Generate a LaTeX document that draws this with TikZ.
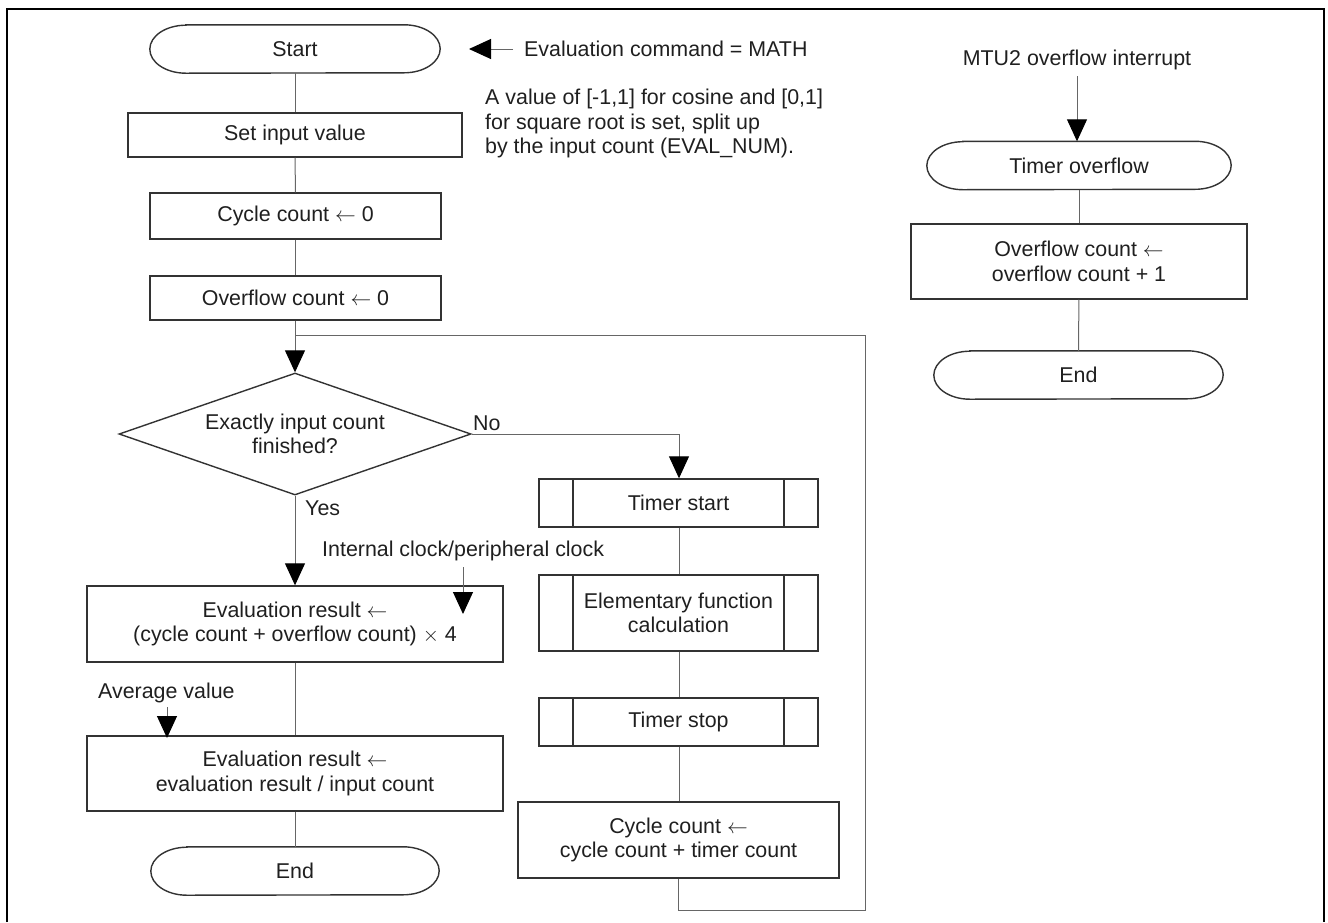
\documentclass[tikz,border=0pt]{standalone}
\usepackage{fontspec}
\setmainfont{Liberation Sans}
\usetikzlibrary{arrows.meta,shapes.geometric}

% outline of a terminator with elliptical ends
\newcommand\termoutline[1]{%
  \draw[outline] ([xshift=36pt]#1.north west) -- ([xshift=-36pt]#1.north east)
    arc[start angle=90,end angle=-90,x radius=36pt,y radius=24pt]
    -- ([xshift=36pt]#1.south west)
    arc[start angle=270,end angle=90,x radius=36pt,y radius=24pt] -- cycle;}

\begin{document}
\begin{tikzpicture}[x=1pt,y=1pt,
  every node/.style={font=\fontsize{21.4}{24.5}\selectfont, text=black!88},
  outline/.style={draw=black!80, line width=1.4pt},
  box/.style={outline, align=center, inner sep=0pt},
  term/.style={align=center, inner sep=0pt, minimum height=48pt},
  subproc/.style={box, path picture={
      \draw[outline] ([xshift=34pt]path picture bounding box.north west) -- ([xshift=34pt]path picture bounding box.south west)
                     ([xshift=-34pt]path picture bounding box.north east) -- ([xshift=-34pt]path picture bounding box.south east);}},
  decision/.style={outline, shape=diamond, aspect=2.9, inner sep=0pt, align=center},
  link/.style={draw=black!60, line width=1pt},
  flow/.style={link, -{Triangle[length=22pt,width=20pt,color=black]}},
  note/.style={inner sep=0pt, align=left},
]
\useasboundingbox (0,0) rectangle (1328,-922);

% frame, open at the bottom
\draw[line width=2.5pt, black] (7,-922) -- (7,-9) -- (1324,-9) -- (1324,-922);

% ---------- main flow ----------
\node[term, minimum width=290pt] (start) at (295,-49) {Start};
\node[box, minimum width=334pt, minimum height=44pt] (setin) at (295,-135) {Set input value};
\node[box, minimum width=291pt, minimum height=46pt] (cyc0) at (295.5,-216) {Cycle count $\leftarrow$ 0};
\node[box, minimum width=291pt, minimum height=44pt] (ovf0) at (295.5,-298) {Overflow count $\leftarrow$ 0};
\node[decision, minimum width=352pt, minimum height=122pt] (dec) at (295,-434) {Exactly input count\\finished?};
\node[box, minimum width=416pt, minimum height=76pt] (eval1) at (295,-624)
  {Evaluation result $\leftarrow$\\(cycle count + overflow count) $\times$ 4};
\node[box, minimum width=416pt, minimum height=75pt] (eval2) at (295,-773.5)
  {Evaluation result $\leftarrow$\\evaluation result / input count};
\node[term, minimum width=288pt] (end1) at (295,-871) {End};

% ---------- loop body ----------
\node[subproc, minimum width=279pt, minimum height=48pt] (tstart) at (678.5,-503) {Timer start};
\node[subproc, minimum width=279pt, minimum height=76pt] (elem) at (678.5,-613) {Elementary function\\calculation};
\node[subproc, minimum width=279pt, minimum height=48pt] (tstop) at (678.5,-722) {Timer stop};
\node[box, minimum width=321pt, minimum height=76pt] (cycupd) at (678.5,-840)
  {Cycle count $\leftarrow$\\cycle count + timer count};

% ---------- interrupt routine ----------
\node[note] (mtu) at (1077,-60) {MTU2 overflow interrupt};
\node[term, minimum width=304pt] (tov) at (1079,-165.5) {Timer overflow};
\node[box, minimum width=336pt, minimum height=75pt] (ovfupd) at (1079,-261.5)
  {Overflow count $\leftarrow$\\overflow count + 1};
\node[term, minimum width=289pt] (end2) at (1078.5,-375) {End};

\foreach \t in {start,end1,tov,end2} {\termoutline{\t}}

% ---------- annotations ----------
\node[note, anchor=west] (cmd) at (524,-49) {Evaluation command = MATH};
\coordinate (cmdtail) at (513,-49);
\coordinate (cmdtip) at (469,-49);
\node[note, anchor=north west] (range) at (485,-89)
  {A value of [-1,1] for cosine and [0,1]\\for square root is set, split up\\by the input count (EVAL\_NUM).};
\node[note, anchor=west] (clk) at (322,-551) {Internal clock/peripheral clock};
\coordinate (clktail) at (463,-567);
\coordinate (clktip) at (463,-614);
\node[note, anchor=west] (avg) at (98,-693) {Average value};
\coordinate (avgtail) at (167,-707);
\coordinate (avgtip) at (167,-738);
\node[note, anchor=west] (yes) at (305,-508) {Yes};
\node[note, anchor=west] (no) at (473,-423) {No};

% ---------- connectors ----------
\draw[link] (start) -- (setin);
\draw[link] (setin) -- (cyc0);
\draw[link] (cyc0) -- (ovf0);
\coordinate (join) at (295,-335);
\coordinate (loopR) at (865,-910);
\draw[flow] (ovf0.south -| join) -- (dec.north);
\draw[link] (cycupd.south -| tstart.north) |- (loopR) |- (join);
\draw[flow] (dec.east) -| (tstart.north -| 679,0);
\draw[link] (tstart.south -| 679,0) -- (elem.north -| 679,0);
\draw[link] (elem.south -| 679,0) -- (tstop.north -| 679,0);
\draw[link] (tstop.south -| 679,0) -- (cycupd.north -| 679,0);
\draw[flow] (dec.south) -- (eval1.north);
\draw[link] (eval1) -- (eval2);
\draw[link] (eval2) -- (end1);

\draw[flow] (cmdtail) -- (cmdtip);
\draw[flow] (clktail) -- (clktip);
\draw[flow] (avgtail) -- (avgtip);
\draw[flow] (mtu.south) ++(0,-6) coordinate (mtutail) (mtutail) -- (tov.north -| mtutail);
\draw[link] (tov) -- (ovfupd);
\draw[link] (ovfupd) -- (end2);
\end{tikzpicture}
\end{document}
